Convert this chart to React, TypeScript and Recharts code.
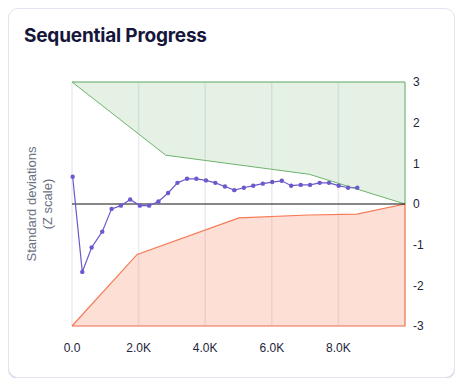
import {
  Area, ComposedChart, CartesianGrid, Line, ReferenceLine, XAxis, YAxis,
} from 'recharts'

// observed sequence (sample count vs z score)
const samples = [20, 309, 590, 908, 1189, 1468, 1747, 2037, 2317, 2596, 2886, 3166, 3455, 3735, 4024, 4305,
  4593, 4874, 5162, 5443, 5731, 6012, 6300, 6581, 6869, 7149, 7438, 7718, 8007, 8289, 8568]
const zScores = [0.67, -1.67, -1.07, -0.68, -0.12, -0.04, 0.11, -0.04, -0.04, 0.06, 0.27, 0.52, 0.62, 0.62, 0.58, 0.52,
  0.43, 0.34, 0.40, 0.45, 0.50, 0.54, 0.57, 0.45, 0.47, 0.47, 0.52, 0.52, 0.45, 0.40, 0.40]

// upper (winning) boundary
const upperX = [0, 2816, 7131, 10000]
const upperZ = [3, 1.2, 0.73, 0]
// lower (losing) boundary
const lowerX = [0, 1957, 5013, 7100, 8560, 10000]
const lowerZ = [-3, -1.24, -0.34, -0.27, -0.25, 0]

const xTicks = [0, 2000, 4000, 6000, 8000]
const zTicks = [-3, -2, -1, 0, 1, 2, 3]

const seqData = samples.map((x, i) => ({ x, z: zScores[i] }))
const upperData = upperX.map((x, i) => ({ x, z: upperZ[i] }))
const lowerData = lowerX.map((x, i) => ({ x, z: lowerZ[i] }))
// closed outlines of the two regions
const upperOutline = [...upperData, { x: 10000, z: 3 }, { x: 0, z: 3 }]
const lowerOutline = [...lowerData, { x: 10000, z: -3 }, { x: 0, z: -3 }]

const GREEN = '#6cb46c'
const RED = '#f77a55'
const PURPLE = '#6a5acd'

function fmtK(v: number) {
  return v === 0 ? '0.0' : (v / 1000).toFixed(1) + 'K'
}

function AxisTitle(props: any) {
  const { viewBox } = props
  const cx = viewBox.x + viewBox.width / 2 - 5
  const cy = viewBox.y + viewBox.height / 2
  return (
    <text transform={`rotate(-90 ${cx} ${cy})`} x={cx} y={cy} textAnchor="middle"
          fill="#6b7080" fontSize={13} fontFamily="'Liberation Sans', Arial, sans-serif">
      <tspan x={cx} dy="-3">Standard deviations</tspan>
      <tspan x={cx} dy="16">(Z scale)</tspan>
    </text>
  )
}

export default function App() {
  const tick = { fontSize: 12, fill: '#24243a', fontFamily: "'Liberation Sans', Arial, sans-serif" }
  return (
    <div style={{
      position: 'relative', width: 445, height: 368, border: '1px solid #e4e4ee', borderRadius: 10,
      boxShadow: '0 1px 1px #cfcdeb', background: '#fff', boxSizing: 'content-box',
    }}>
      <div style={{
        position: 'absolute', left: 15, top: 15, fontFamily: 'Inter, sans-serif', fontWeight: 700,
        fontSize: 19, color: '#16163a', letterSpacing: -0.2,
      }}>Sequential Progress</div>
      <div style={{ position: 'absolute', left: -1, top: 49 }}>
        <ComposedChart width={447} height={298} margin={{ top: 24, right: 10, bottom: 0, left: 8 }}>
          <CartesianGrid stroke="#ebebf0" strokeWidth={1.5} />
          <XAxis type="number" dataKey="x" domain={[0, 10000]} ticks={xTicks} tickFormatter={fmtK}
                 axisLine={false} tickLine={false} tick={tick} tickMargin={11} allowDuplicatedCategory={false} />
          <YAxis yAxisId="r" orientation="right" domain={[-3, 3]} ticks={zTicks} axisLine={false} tickLine={false}
                 tick={tick} width={40} />
          <YAxis yAxisId="l" orientation="left" domain={[-3, 3]} tick={false} axisLine={false} tickLine={false}
                 width={56} label={{ content: AxisTitle }} />
          <Area yAxisId="r" data={upperData} dataKey="z" type="linear" baseValue={3} fill={GREEN}
                fillOpacity={0.18} stroke="none" isAnimationActive={false} />
          <Area yAxisId="r" data={lowerData} dataKey="z" type="linear" baseValue={-3} fill={RED}
                fillOpacity={0.24} stroke="none" isAnimationActive={false} />
          <Line yAxisId="r" data={upperOutline} dataKey="z" type="linear" stroke={GREEN} strokeWidth={1}
                dot={false} isAnimationActive={false} />
          <Line yAxisId="r" data={lowerOutline} dataKey="z" type="linear" stroke={RED} strokeWidth={1.2}
                dot={false} isAnimationActive={false} />
          <ReferenceLine yAxisId="r" y={0} stroke="#111" strokeWidth={1.2} />
          <Line yAxisId="r" data={seqData} dataKey="z" type="linear" stroke={PURPLE} strokeWidth={1.2}
                dot={{ r: 2.2, fill: PURPLE, stroke: PURPLE, strokeWidth: 0 }} isAnimationActive={false} />
        </ComposedChart>
      </div>
    </div>
  )
}
